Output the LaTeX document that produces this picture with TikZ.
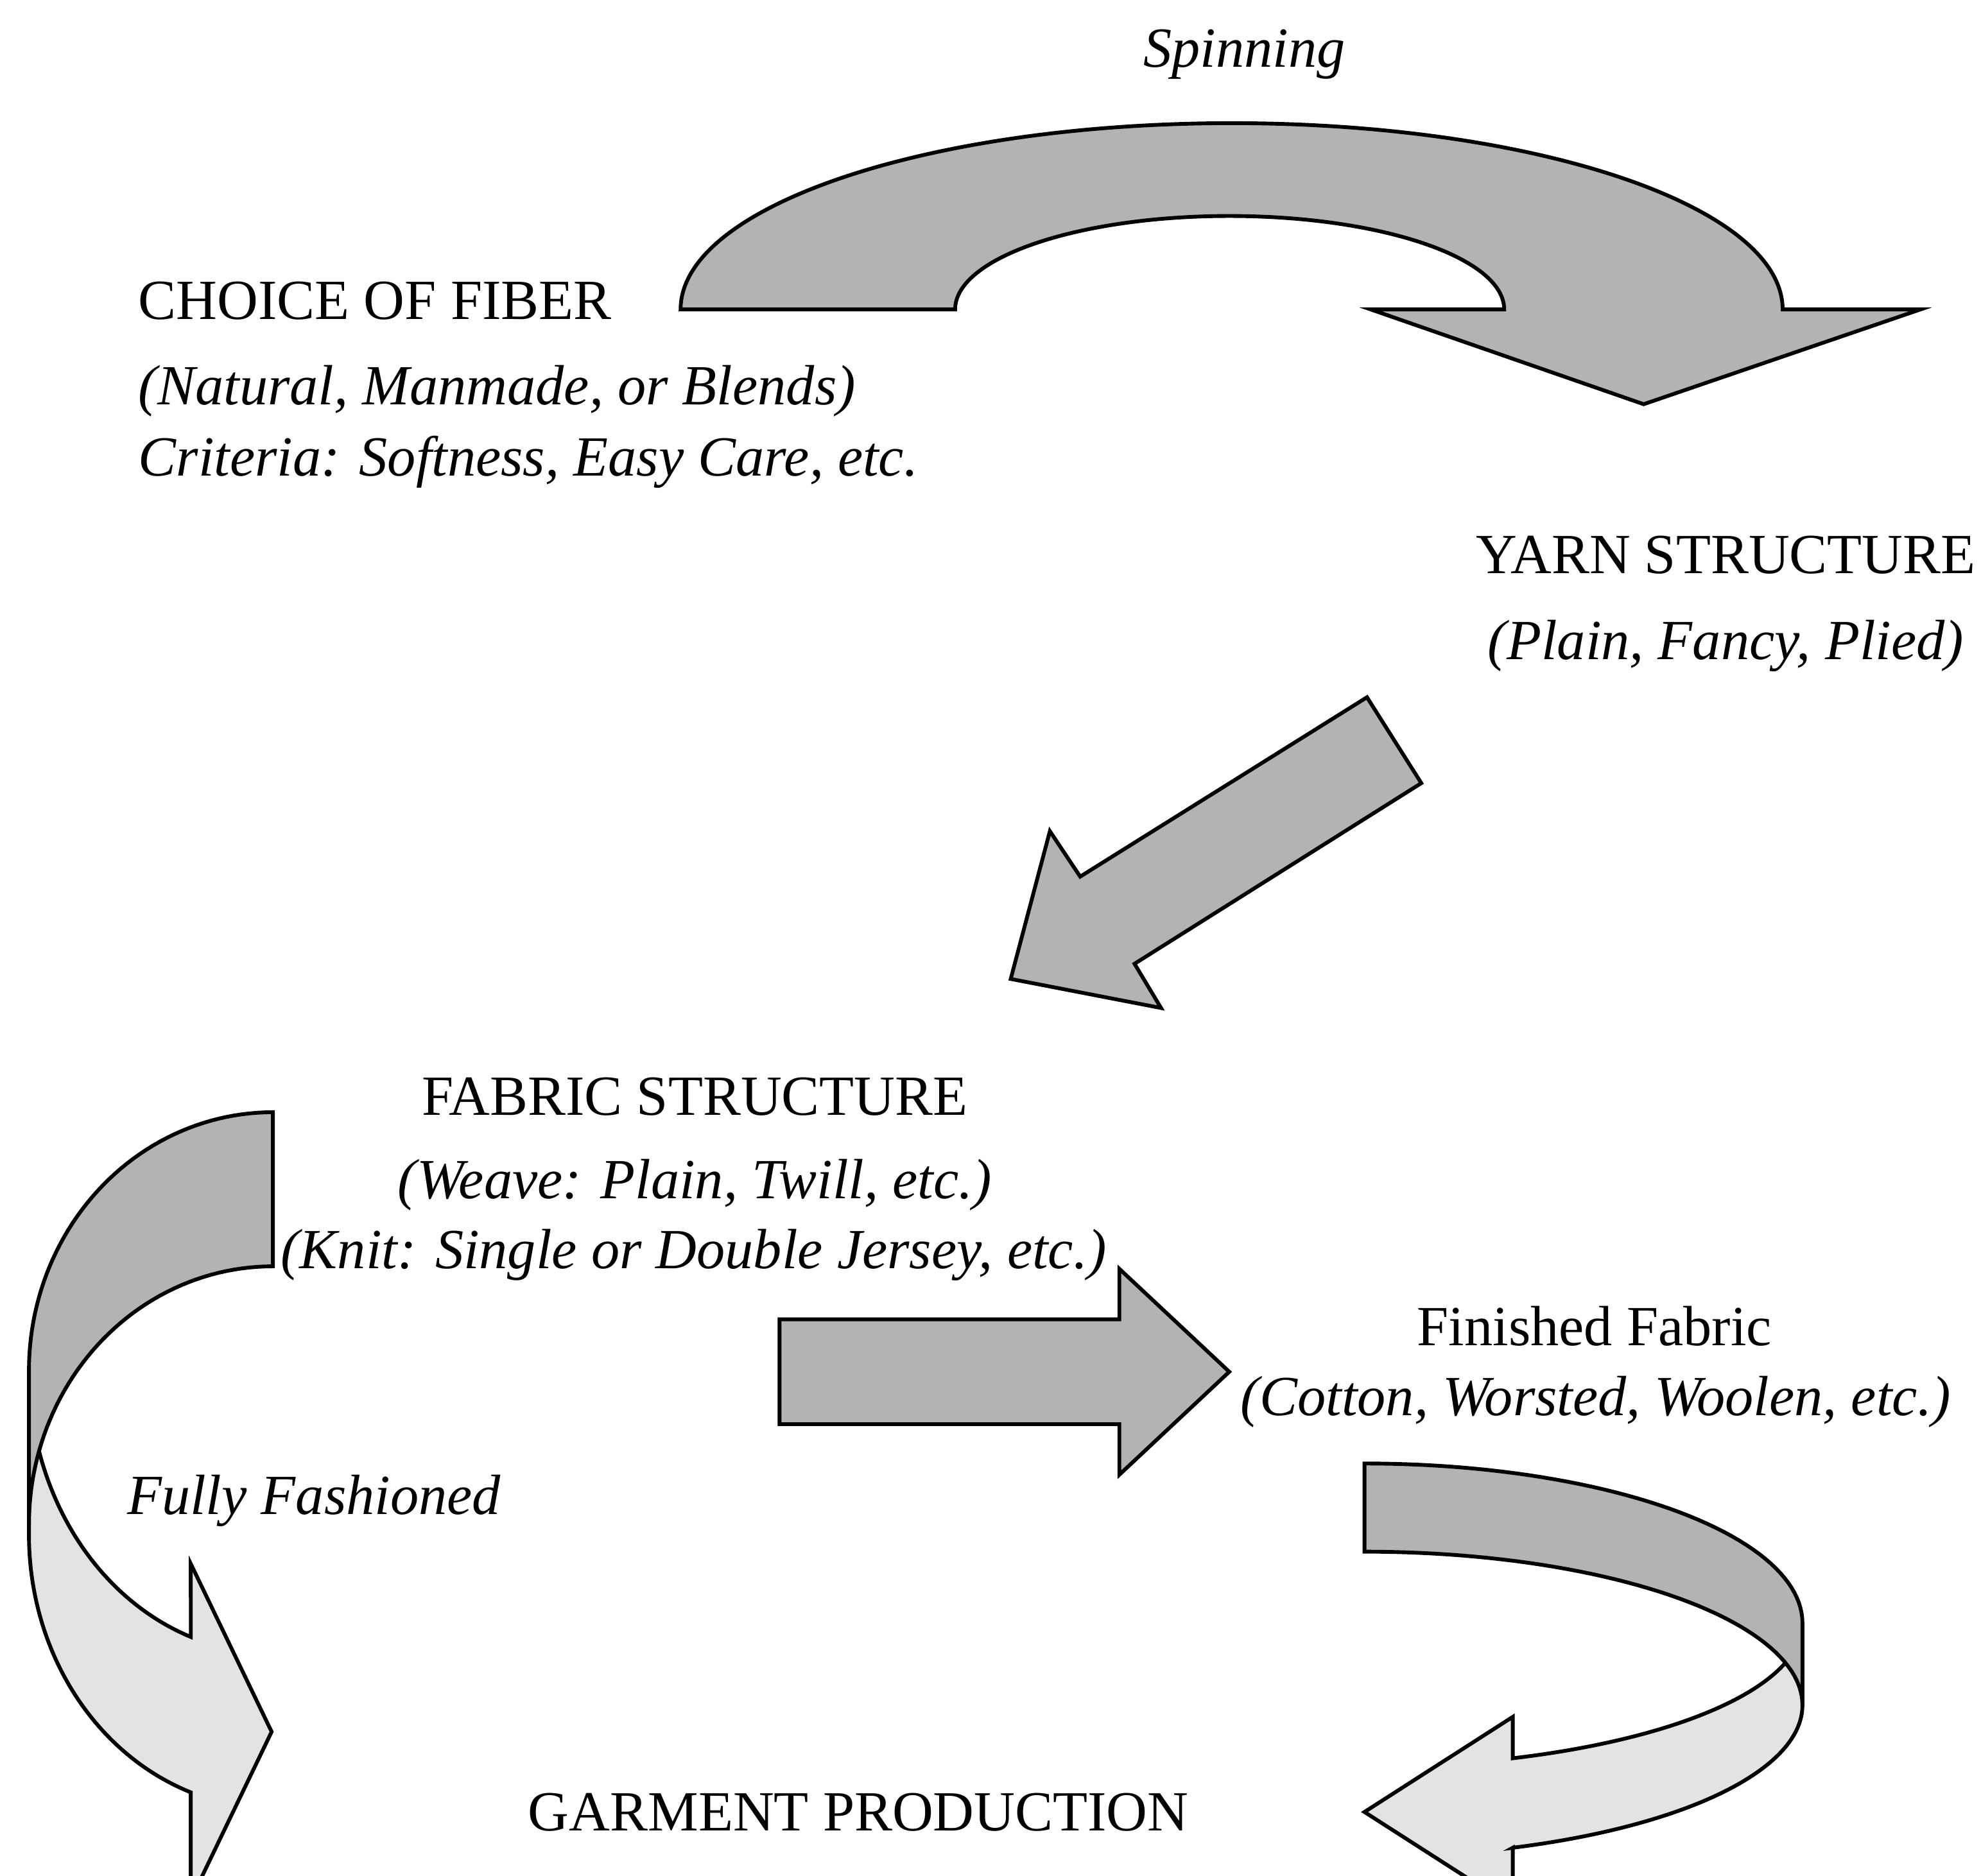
\documentclass[tikz,border=0pt]{standalone}
\usepackage{fontspec}
\setmainfont{Liberation Serif}
\definecolor{darkband}{RGB}{179,179,179}
\definecolor{lightband}{RGB}{227,227,227}
\begin{document}
\begin{tikzpicture}[x=0.01cm, y=-0.01cm,
  blockdark/.style={fill=darkband, draw=black, line width=0.85pt, line join=miter},
  blocklight/.style={fill=lightband, draw=black, line width=0.85pt, line join=miter},
  lbl/.style={inner sep=0pt, font=\fontsize{12.77}{15}\selectfont},
  lblit/.style={inner sep=0pt, font=\fontsize{12.77}{15}\selectfont\itshape}]
\useasboundingbox (0,0) rectangle (1568,1485);
\clip (0,0) rectangle (1568,1485);

% Spinning arrow (top)
\path[blockdark] (538.7,245) .. controls (538.7,163.5) and (734.2,97.5) .. (975,97.5)
  .. controls (1215.8,97.5) and (1411,163.5) .. (1411,245)
  -- (1520,245) -- (1301,320) -- (1085,245) -- (1190.6,245)
  .. controls (1190.6,204.1) and (1093,171) .. (973,171)
  .. controls (853,171) and (756,204.1) .. (756,245) -- cycle;

% diagonal arrow
\path[blockdark] (1082,552) -- (1125,620) -- (898,763) -- (919,798) -- (800,775) -- (831,658) -- (855,694) -- cycle;

% straight right arrow
\path[blockdark] (617,1044.5) -- (886,1044.5) -- (886,1004.5) -- (973,1086) -- (886,1167.5) -- (886,1127.5) -- (617,1127.5) -- cycle;

% left curved arrow (Fully Fashioned)
\path[blocklight] (22.9,1085) -- plot[domain=180:109.67, samples=50] ({216+193.1*cos(\x)}, {1085+224*sin(\x)})
  -- (151,1238) -- (215,1371) -- (151,1504) -- (151,1419)
  -- plot[domain=109.67:180, samples=50] ({216+193.1*cos(\x)}, {1215+216.6*sin(\x)}) -- cycle;
\path[blockdark] plot[domain=90:180, samples=50] ({216+193.1*cos(\x)}, {1085-204.5*sin(\x)})
  -- (22.9,1207)
  -- plot[domain=180:90, samples=50] ({216+193.1*cos(\x)}, {1207-204.5*sin(\x)}) -- cycle;

% right curved arrow (to garment production)
\path[blocklight] (1426.7,1285) -- plot[domain=0:70.21, samples=50] ({1080+346.7*cos(\x)}, {1285+113.7*sin(\x)})
  -- (1197.4,1359.2) -- (1080,1434.5) -- (1197.4,1509.8) -- (1197.4,1462.8)
  -- plot[domain=70.21:0, samples=50] ({1080+346.7*cos(\x)}, {1350+119.9*sin(\x)}) -- cycle;
\path[blockdark] plot[domain=90:0, samples=50] ({1080+346.7*cos(\x)}, {1285-126.4*sin(\x)})
  -- (1426.7,1350)
  -- plot[domain=0:90, samples=50] ({1080+346.7*cos(\x)}, {1350-121.6*sin(\x)}) -- cycle;

% labels
\node[lblit, anchor=base] (spin) at (985,53) {Spinning};
\node[lbl, anchor=base west] (fiber) at (109,253) {CHOICE OF FIBER};
\node[lblit, anchor=base west] (fiberA) at (109,320.6) {(Natural, Manmade, or Blends)};
\node[lblit, anchor=base west] (fiberB) at (109,377) {Criteria: Softness, Easy Care, etc.};
\node[lbl, anchor=base] (yarn) at (1366,454) {YARN STRUCTURE};
\node[lblit, anchor=base] (yarnA) at (1366,522) {(Plain, Fancy, Plied)};
\node[lbl, anchor=base] (fabric) at (550,882.6) {FABRIC STRUCTURE};
\node[lblit, anchor=base] (fabricA) at (550,949) {(Weave: Plain, Twill, etc.)};
\node[lblit, anchor=base] (fabricB) at (549,1004.4) {(Knit: Single or Double Jersey, etc.)};
\node[lbl, anchor=base] (finished) at (1262,1065.4) {Finished Fabric};
\node[lblit, anchor=base] (finishedA) at (1263,1120.4) {(Cotton, Worsted, Woolen, etc.)};
\node[lblit, anchor=base west] (fully) at (100,1198.7) {Fully Fashioned};
\node[lbl, anchor=base] (garment) at (679.5,1449.5) {GARMENT PRODUCTION};
\end{tikzpicture}
\end{document}
